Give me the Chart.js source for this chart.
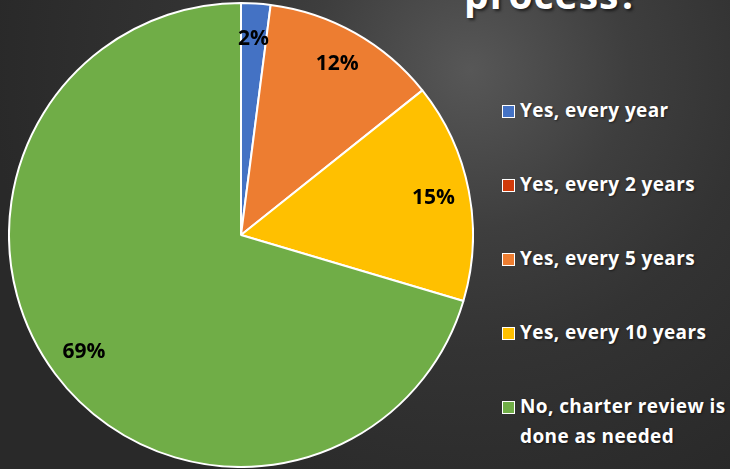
<!DOCTYPE html>
<html>
<head>
<meta charset="utf-8">
<script src="https://cdn.jsdelivr.net/npm/chart.js@4"></script>
<style>
  html, body { margin: 0; padding: 0; }
  body {
    width: 730px; height: 469px; overflow: hidden; position: relative;
    background: radial-gradient(circle at 470px 70px, #575757 0px, #3e3e3e 160px, #333333 280px, #292929 480px);
    font-family: "Open Sans", sans-serif;
  }
  #title {
    position: absolute; left: 464px; top: -33px;
    color: #fff; font-weight: bold; font-size: 39px; letter-spacing: 1px;
    text-shadow: 2px 2px 3px rgba(0,0,0,0.6); white-space: nowrap;
  }
  #pieBox { position: absolute; left: 8px; top: 2px; width: 466px; height: 466px; }
  #legend { position: absolute; left: 502px; top: 95px; color: #fff; font-weight: bold; font-size: 19px; letter-spacing: 0.4px; }
  .item { position: absolute; left: 0; display: flex; align-items: flex-start; line-height: 30px; white-space: nowrap; text-shadow: 1px 1px 2px rgba(0,0,0,0.5); }
  .sw { width: 11px; height: 11px; border: 1px solid #fff; margin: 10px 5px 0 0; flex: none; }
</style>
</head>
<body>
<div id="title">process?</div>
<div id="pieBox"><canvas id="pie"></canvas></div>
<div id="legend"></div>
<script>
const categories = ["Yes, every year", "Yes, every 2 years", "Yes, every 5 years", "Yes, every 10 years", "No, charter review is done as needed"];
const legendLines = [["Yes, every year"], ["Yes, every 2 years"], ["Yes, every 5 years"], ["Yes, every 10 years"], ["No, charter review is", "done as needed"]];
const percentValues = [2, 0, 12, 15, 69];
const sliceColors = ["#4472C4", "#D03A0A", "#ED7D31", "#FFC000", "#70AD47"];

// legend built from the same arrays
const legendBox = document.getElementById("legend");
legendLines.forEach((lines, i) => {
  const row = document.createElement("div");
  row.className = "item";
  row.style.top = (i * 74) + "px";
  const sw = document.createElement("div");
  sw.className = "sw";
  sw.style.background = sliceColors[i];
  const txt = document.createElement("div");
  txt.innerHTML = lines.join("<br>");
  row.appendChild(sw);
  row.appendChild(txt);
  legendBox.appendChild(row);
});

const sliceLabels = {
  id: "sliceLabels",
  afterDatasetsDraw(chart) {
    const ctx = chart.ctx;
    const meta = chart.getDatasetMeta(0);
    ctx.save();
    ctx.font = "bold 21px 'Open Sans', sans-serif";
    ctx.fillStyle = "#000";
    ctx.textAlign = "center";
    ctx.textBaseline = "middle";
    meta.data.forEach((arc, i) => {
      const v = percentValues[i];
      if (!v) return;
      const mid = (arc.startAngle + arc.endAngle) / 2;
      const r = arc.outerRadius * 0.845;
      ctx.fillText(v + "%", arc.x + Math.cos(mid) * r, arc.y + Math.sin(mid) * r);
    });
    ctx.restore();
  }
};

new Chart(document.getElementById("pie").getContext("2d"), {
  type: "pie",
  data: {
    labels: categories,
    datasets: [{
      data: percentValues,
      backgroundColor: sliceColors,
      borderColor: "#ffffff",
      borderWidth: 2
    }]
  },
  options: {
    responsive: true,
    maintainAspectRatio: false,
    animation: false,
    layout: { padding: 0 },
    plugins: { legend: { display: false }, tooltip: { enabled: false } }
  },
  plugins: [sliceLabels]
});
</script>
</body>
</html>
